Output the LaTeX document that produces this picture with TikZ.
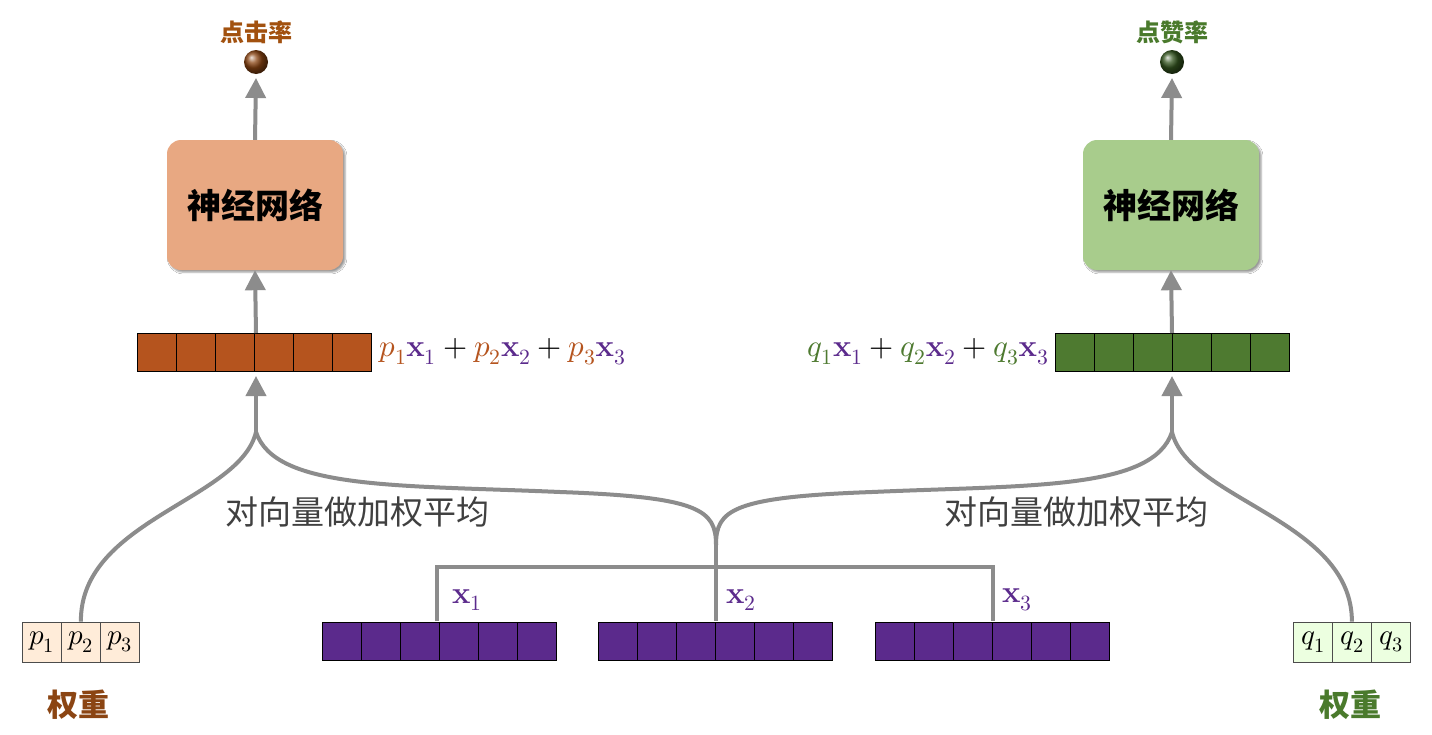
\documentclass[tikz,border=0pt]{standalone}
\usepackage{fontspec}
\usepackage{unicode-math}
\newfontfamily\cjk{Noto Sans CJK SC}
\usetikzlibrary{shadows.blur,arrows.meta}
\definecolor{rust}{HTML}{B5541E}
\definecolor{dgreen}{HTML}{4E7A30}
\definecolor{purp}{HTML}{5B2A8C}
\definecolor{brownt}{HTML}{8B4513}
\definecolor{greent}{HTML}{4A7A2C}
\definecolor{salmon}{HTML}{E8A882}
\definecolor{lgreen}{HTML}{A8CC8C}
\definecolor{lineg}{HTML}{8C8C8C}
\tikzset{
  conn/.style={draw=lineg,line width=4pt},
  arr/.style={conn,-{Triangle[length=20pt,width=20pt]}},
  nnbox/.style={rounded corners=14pt,minimum width=176pt,minimum height=130pt,blur shadow,font=\cjk\bfseries\fontsize{34}{36}\selectfont},
  cell/.style={draw=black,line width=1pt,minimum width=39pt,minimum height=38pt,inner sep=0pt,anchor=west},
  wcell/.style={draw=black!70,line width=0.8pt,minimum width=39pt,minimum height=40pt,inner sep=0pt,anchor=west,font=\fontsize{29}{30}\selectfont},
  lbl/.style={font=\fontsize{31}{33}\selectfont},
}
\begin{document}
\begin{tikzpicture}[x=1pt,y=-1pt]
\useasboundingbox[fill=white] (0,0) rectangle (1432,734);
% balls
\shade[ball color=brownt] (256,62) circle (12);
\node[font=\cjk\bfseries\fontsize{24}{26}\selectfont,text=brownt!80!orange] (t1) at (256,32) {点击率};
\shade[ball color=greent!70!black] (1172,62) circle (12);
\node[font=\cjk\bfseries\fontsize{24}{26}\selectfont,text=greent] (t2) at (1172,32) {点赞率};
\coordinate (b1) at (256,78); \coordinate (b2) at (1172,78);
% boxes
\node[nnbox,fill=salmon] (nn1) at (255,205) {神经网络};
\node[nnbox,fill=lgreen] (nn2) at (1171,205) {神经网络};
\draw[arr] (nn1.north) -- (b1);
\draw[arr] (nn2.north) -- (b2);
% bars
\foreach \i in {0,...,5} {
  \node[cell,fill=rust] (l\i) at ({137+39*\i},352) {};
  \node[cell,fill=dgreen] (r\i) at ({1055+39*\i},352) {};
  \node[cell,fill=purp] (a\i) at ({322+39*\i},641) {};
  \node[cell,fill=purp] (b\i) at ({598+39*\i},641) {};
  \node[cell,fill=purp] (c\i) at ({875+39*\i},641) {};
}
\coordinate (lt) at (256,333); \coordinate (rt) at (1172,333);
\draw[arr] (lt) -- (nn1.south);
\draw[arr] (rt) -- (nn2.south);
\node[lbl,anchor=west] (fl) at (376,352) {$\color{rust}p_1\color{purp}\mathbf{x}_1\color{black}+\color{rust}p_2\color{purp}\mathbf{x}_2\color{black}+\color{rust}p_3\color{purp}\mathbf{x}_3$};
\node[lbl,anchor=east] (fr) at (1052,352) {$\color{dgreen}q_1\color{purp}\mathbf{x}_1\color{black}+\color{dgreen}q_2\color{purp}\mathbf{x}_2\color{black}+\color{dgreen}q_3\color{purp}\mathbf{x}_3$};
% weights
\foreach \i/\t in {0/1,1/2,2/3} {
  \node[wcell,fill=orange!15] (p\i) at ({22+39*\i},642) {$p_\t$};
  \node[wcell,fill=green!50!lime!12] (q\i) at ({1293+39*\i},642) {$q_\t$};
}
\node[font=\cjk\bfseries\fontsize{31}{33}\selectfont,text=brownt] (w1) at (78,705) {权重};
\node[font=\cjk\bfseries\fontsize{31}{33}\selectfont,text=greent] (w2) at (1350,705) {权重};
% connectors
\coordinate (jl) at (256,432); \coordinate (jr) at (1172,432);
\coordinate (jm) at (716,545);
\draw[arr] (jl) -- (256,376);
\draw[arr] (jr) -- (1172,376);
\draw[conn] (p1.north) .. controls (80,520) and (240,500) .. (jl);
\draw[conn] (q1.north) .. controls (1352,520) and (1188,500) .. (jr);
\draw[conn] (jl) .. controls (275,490) and (400,485) .. (560,492) .. controls (700,497) and (716,510) .. (jm);
\draw[conn] (jr) .. controls (1153,490) and (1030,485) .. (872,492) .. controls (732,497) and (716,510) .. (jm);
\coordinate (h1) at (437,567); \coordinate (h3) at (993,567);
\draw[conn] (437,621) -- (h1) -- (h3) -- (993,621);
\draw[conn] (jm) -- (716,621);
\node[lbl,text=purp] (x1) at (467,600) {$\mathbf{x}_1$};
\node[lbl,text=purp] (x2) at (741,600) {$\mathbf{x}_2$};
\node[lbl,text=purp] (x3) at (1017,600) {$\mathbf{x}_3$};
\node[font=\cjk\fontsize{33}{35}\selectfont,text=black!75] (s1) at (357,512) {对向量做加权平均};
\node[font=\cjk\fontsize{33}{35}\selectfont,text=black!75] (s2) at (1076,512) {对向量做加权平均};
\end{tikzpicture}
\end{document}
